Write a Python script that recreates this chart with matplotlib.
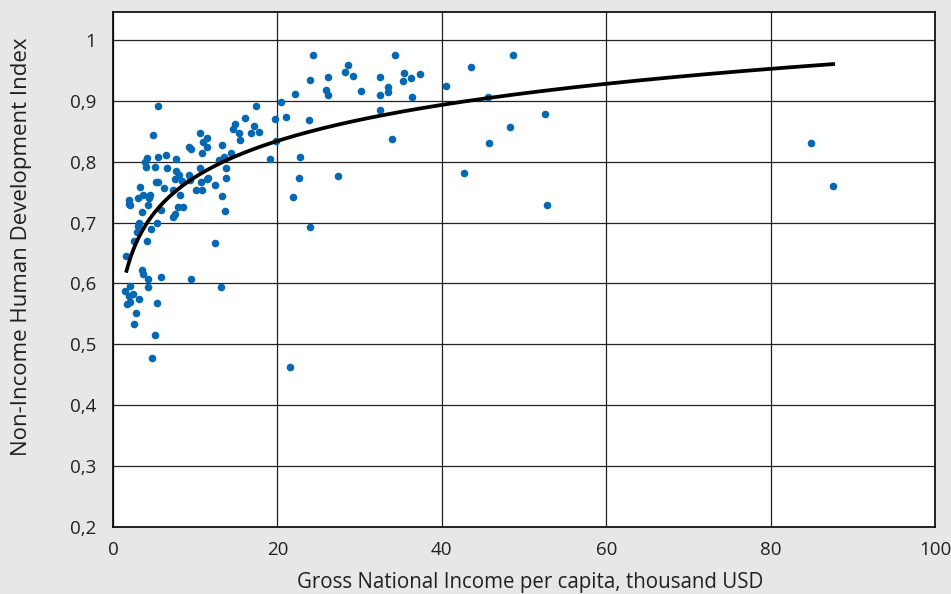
import numpy as np
import matplotlib
matplotlib.use("Agg")
import matplotlib.pyplot as plt
from matplotlib.ticker import FuncFormatter

# GNI per capita (thousand USD) and non-income HDI
gni = [84.9, 87.6, 48.7, 43.5, 37.3, 40.5, 45.6, 52.6, 48.3, 45.7, 42.7, 52.8,
       24.3, 34.3, 28.6, 28.2, 29.2, 26.2, 24.0, 32.5, 35.4, 36.2, 35.3, 25.9,
       26.2, 30.2, 33.5, 33.4, 32.5, 36.4, 32.5, 23.8, 33.9, 22.7, 22.1, 20.4,
       17.4, 21.1, 19.7, 16.0, 14.9, 14.6, 15.3, 15.4, 17.2, 16.8, 17.8, 19.8,
       19.1, 22.6, 21.9, 24.0, 27.4, 11.4, 10.6, 10.9, 11.4, 10.8, 13.3, 12.9,
       13.5, 14.4, 13.7, 13.8, 10.6, 11.4, 10.7, 12.4, 13.3, 13.6, 12.4, 13.1,
       5.5, 4.9, 9.3, 9.5, 6.4, 5.5, 7.7, 4.1, 3.9, 4.0, 5.1, 6.6,
       7.7, 8.0, 9.2, 7.5, 8.4, 9.4, 11.6, 10.8, 10.1, 3.3, 7.3, 8.1,
       3.7, 4.5, 1.9, 3.1, 4.4, 2.1, 4.3, 1.9, 3.5, 7.9, 8.5, 7.6,
       7.3, 5.9, 5.4, 3.2, 3.1, 2.9, 4.6, 4.1, 2.5, 1.6, 3.5, 3.6,
       4.3, 5.9, 9.5, 2.1, 4.2, 1.5, 2.4, 1.9, 1.7, 2.1, 3.2, 5.4,
       2.8, 2.5, 5.1, 4.7, 21.5, 5.2, 5.5, 6.2]
nihdi = [0.831, 0.760, 0.975, 0.956, 0.944, 0.924, 0.906, 0.878, 0.857, 0.830, 0.782, 0.729,
         0.976, 0.976, 0.959, 0.947, 0.941, 0.940, 0.934, 0.940, 0.946, 0.938, 0.932, 0.918,
         0.909, 0.917, 0.922, 0.915, 0.910, 0.906, 0.885, 0.868, 0.838, 0.808, 0.911, 0.898,
         0.891, 0.874, 0.870, 0.872, 0.862, 0.854, 0.847, 0.835, 0.858, 0.848, 0.849, 0.834,
         0.805, 0.773, 0.742, 0.693, 0.777, 0.839, 0.848, 0.833, 0.824, 0.814, 0.828, 0.803,
         0.807, 0.814, 0.789, 0.774, 0.789, 0.772, 0.767, 0.761, 0.744, 0.719, 0.667, 0.595,
         0.892, 0.844, 0.825, 0.821, 0.811, 0.807, 0.805, 0.806, 0.799, 0.792, 0.791, 0.790,
         0.785, 0.779, 0.778, 0.771, 0.769, 0.770, 0.773, 0.754, 0.754, 0.759, 0.754, 0.746,
         0.746, 0.746, 0.737, 0.740, 0.740, 0.729, 0.729, 0.731, 0.718, 0.726, 0.725, 0.714,
         0.709, 0.721, 0.700, 0.700, 0.695, 0.684, 0.690, 0.670, 0.669, 0.645, 0.622, 0.616,
         0.607, 0.610, 0.607, 0.596, 0.595, 0.588, 0.582, 0.579, 0.566, 0.570, 0.575, 0.568,
         0.551, 0.533, 0.515, 0.478, 0.463, 0.766, 0.767, 0.757]

# logarithmic trend line y = a + b*ln(x)
trend_a = 0.578
trend_b = 0.0855
trend_x = [1.65, 87.6]

x_ticks = [0, 20, 40, 60, 80, 100]
y_ticks = [0.2, 0.3, 0.4, 0.5, 0.6, 0.7, 0.8, 0.9, 1.0]

plt.rcParams['font.family'] = ['Open Sans', 'DejaVu Sans']

fig = plt.figure(figsize=(9.51, 5.94), dpi=100, facecolor='#e6e7e8')
ax = fig.add_axes([0.1188, 0.1128, 0.8644, 0.867])
ax.set_facecolor('white')

ax.scatter(gni, nihdi, s=30, color='#0568b3', zorder=3, linewidths=0)

xs = np.linspace(trend_x[0], trend_x[1], 300)
ax.plot(xs, trend_a + trend_b * np.log(xs), color='black', lw=2.7, zorder=4)

ax.set_xlim(0, 100)
ax.set_ylim(0.2, 1.046)
ax.set_xticks(x_ticks)
ax.set_yticks(y_ticks)
ax.yaxis.set_major_formatter(FuncFormatter(
    lambda v, p: '1' if abs(v - 1) < 1e-9 else f'{v:.1f}'.replace('.', ',')))
ax.grid(True, color='#222222', lw=0.9)
ax.set_axisbelow(True)
ax.tick_params(length=0, labelsize=13.5, colors='#231f20')
ax.tick_params(axis='y', pad=12)
ax.tick_params(axis='x', pad=10)
for s in ax.spines.values():
    s.set_color('black')
    s.set_linewidth(1.2)

ax.set_xlabel('Gross National Income per capita, thousand USD', fontsize=14.8,
              color='#231f20')
ax.set_ylabel('Non-Income Human Development Index', fontsize=16,
              color='#231f20')
ax.xaxis.set_label_coords(0.508, -0.088)
ax.yaxis.set_label_coords(-0.099, 0.545)

fig.savefig('out.png', dpi=100, facecolor=fig.get_facecolor())
